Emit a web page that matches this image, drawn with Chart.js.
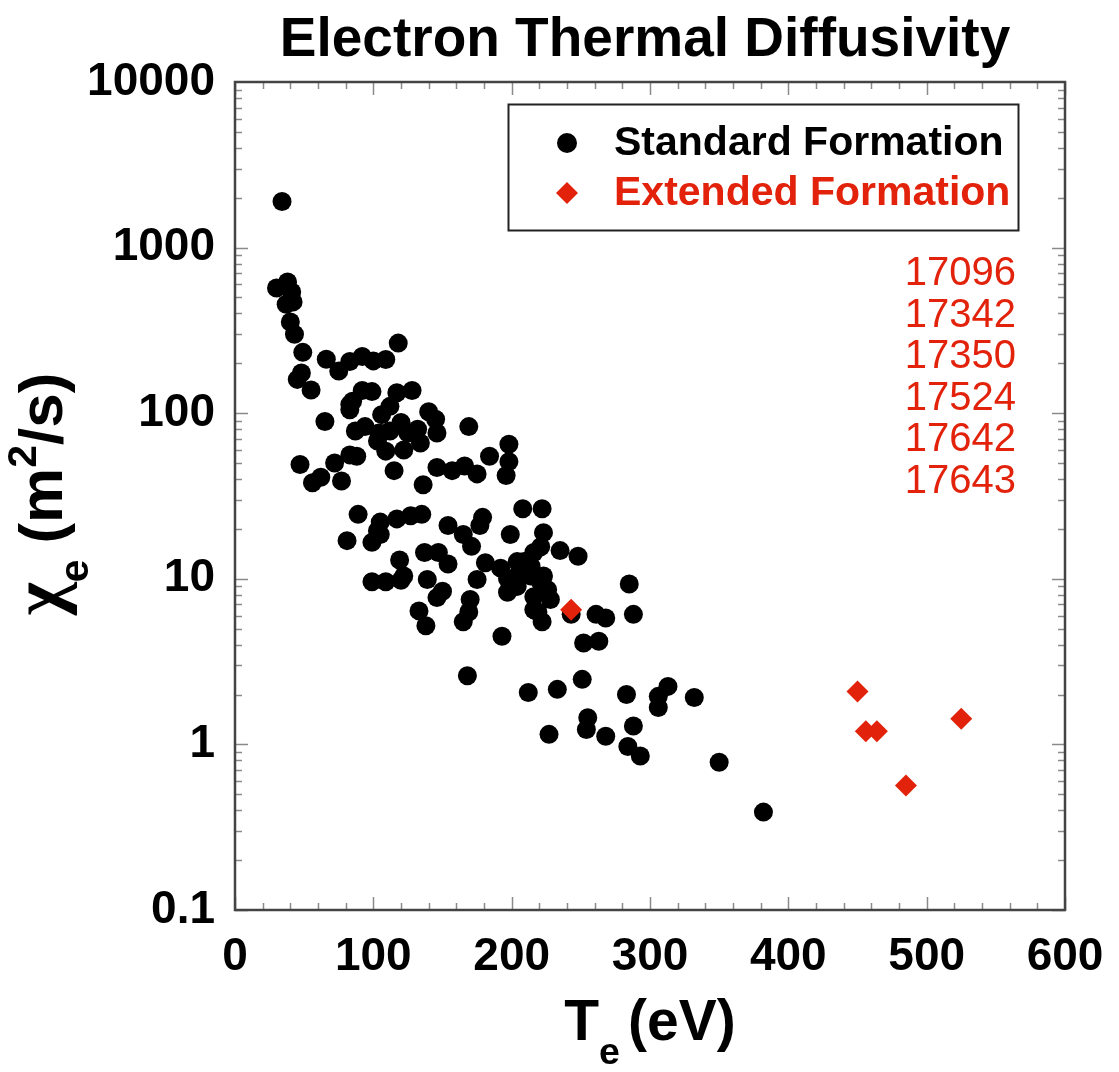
<!DOCTYPE html>
<html>
<head>
<meta charset="utf-8">
<title>Electron Thermal Diffusivity</title>
<script src="https://cdn.jsdelivr.net/npm/chart.js@4.4.1/dist/chart.umd.min.js"></script>
<style>
    html, body { margin: 0; padding: 0; background: #fff; }
    #wrap { width: 1119px; height: 1072px; }
</style>
</head>
<body>
<div id="wrap"><canvas id="chiChart" width="1119" height="1072"></canvas></div>
<script>
// Standard formation shots: Te (eV) and chi_e (m^2/s)
const standardTe = [
    34, 30, 38, 41, 37, 42, 40, 43, 49, 66, 75, 83, 92, 100, 109, 118,
    45, 48, 55, 65, 83, 83, 85, 92, 99, 117, 128, 112, 106, 87, 94, 104,
    103, 112, 120, 125, 132, 140, 145, 146, 134, 122, 109, 115, 88, 83, 169, 184,
    196, 198, 198, 47, 56, 62, 72, 77, 136, 146, 157, 166, 175,
    89, 105, 117, 127, 135, 154, 179, 81, 99, 105, 103, 119, 99, 109, 120, 139,
    137, 147, 154, 165, 171, 177, 181, 175, 170, 169, 165, 150, 146, 133, 138, 193,
    168, 199, 208, 222, 223, 235, 248, 285, 288, 261, 268, 252, 263, 243, 197, 192,
    197, 204, 209, 214, 216, 221, 221, 226, 228, 216, 216, 222, 204, 223, 219, 122,
    204, 214, 212, 233, 251, 283, 313, 306, 306, 332, 255, 254, 227, 268, 288, 284,
    293, 350, 382
];
const standardChi = [
    1900, 570, 620, 540, 455, 470, 355, 300, 233, 212, 180, 205, 220, 207, 211, 265,
    160, 175, 138, 89, 113, 105, 118, 137, 135, 133, 137, 110, 98, 78, 83, 76,
    68, 78, 88, 76, 80, 102, 92, 76, 66, 60, 59, 45, 55, 56, 83, 55,
    42, 65, 51, 49, 38, 41, 50, 39, 37, 47, 45, 48, 43,
    24.5, 22, 23, 24, 24.5, 21, 23.5, 17, 16.6, 18.5, 19.5, 13, 9.6, 9.6, 9.8, 9.9,
    14.4, 14.4, 12.3, 18.5, 15.7, 21, 12.5, 9.9, 7.5, 6.3, 5.5, 8.4, 7.7, 6.4, 5.2, 4.5,
    2.6, 18.5, 26.5, 26.5, 19, 14.8, 13.7, 9.3, 6.1, 6.1, 5.8, 4.1, 4.2, 6.1, 10, 11.6,
    8.3, 9, 12.7, 10.4, 14.4, 15.6, 9.5, 8.6, 7.5, 7.8, 6.5, 5.5, 10.4, 10.4, 6.3, 10.4,
    12.7, 11.9, 2.06, 2.15, 2.47, 2.0, 2.24, 1.95, 1.67, 1.92, 1.45, 1.23, 1.15, 1.12, 1.29, 0.97,
    0.85, 0.78, 0.39
];

// Extended formation shots
const extendedTe = [243, 450, 456, 464, 485, 525];
const extendedChi = [6.5, 2.09, 1.2, 1.2, 0.565, 1.43];
const shotNumbers = ['17096', '17342', '17350', '17524', '17642', '17643'];

// Axis ticks
const xTicks = [0, 100, 200, 300, 400, 500, 600];
const yTicks = [0.1, 1, 10, 100, 1000, 10000];
const yTickLabels = ['0.1', '1', '10', '100', '1000', '10000'];

const FONT = '"Liberation Sans", Arial, Helvetica, sans-serif';
const GREEK = '"Liberation Serif", "DejaVu Serif", serif';
const RED = 'rgb(226, 34, 10)';

function toPoints(xs, ys) {
    return xs.map((x, i) => ({ x: x, y: ys[i] }));
}

// text with sub/superscripts, centred on (cx, cy) baseline
function drawRich(ctx, segs, cx, cy, size, rotate) {
    ctx.save();
    ctx.translate(cx, cy);
    if (rotate) ctx.rotate(-Math.PI / 2);
    ctx.textBaseline = 'alphabetic';
    ctx.textAlign = 'left';
    ctx.fillStyle = '#000';
    let total = 0;
    segs.forEach(s => {
        const sz = (s.sub || s.sup) ? size * 0.66 : size * (s.scale || 1);
        s.font = 'bold ' + sz + 'px ' + (s.family || FONT);
        ctx.font = s.font;
        s.w = ctx.measureText(s.t).width + (s.gap || 0);
        total += s.w;
    });
    let x = -total / 2;
    segs.forEach(s => {
        ctx.font = s.font;
        const dy = s.sub ? size * 0.42 : s.sup ? -size * 0.42 : 0;
        ctx.fillText(s.t, x, dy);
        x += s.w;
    });
    ctx.restore();
}

const decorPlugin = {
    id: 'decor',
    afterDatasetsDraw(chart) {
        const ctx = chart.ctx;
        const a = chart.chartArea;
        const xs = chart.scales.x;
        const ys = chart.scales.y;

        // inward tick marks on all four sides
        ctx.save();
        ctx.strokeStyle = '#8a8a8a';
        ctx.lineWidth = 1.5;
        ctx.beginPath();
        for (let v = 0; v <= 600; v += 20) {
            const px = Math.round(xs.getPixelForValue(v)) + 0.5;
            const len = (v % 100 === 0) ? 13 : 7;
            ctx.moveTo(px, a.bottom); ctx.lineTo(px, a.bottom - len);
            ctx.moveTo(px, a.top); ctx.lineTo(px, a.top + len);
        }
        for (let d = 0.1; d < 10000; d *= 10) {
            for (let m = 1; m <= 9; m++) {
                const py = Math.round(ys.getPixelForValue(m * d)) + 0.5;
                const len = m === 1 ? 13 : 7;
                ctx.moveTo(a.left, py); ctx.lineTo(a.left + len, py);
                ctx.moveTo(a.right, py); ctx.lineTo(a.right - len, py);
            }
        }
        ctx.stroke();

        // frame
        ctx.strokeStyle = '#444';
        ctx.lineWidth = 2.5;
        ctx.strokeRect(a.left, a.top, a.right - a.left, a.bottom - a.top);

        // title
        ctx.fillStyle = '#000';
        ctx.font = 'bold 55px ' + FONT;
        ctx.textAlign = 'center';
        ctx.textBaseline = 'alphabetic';
        ctx.fillText('Electron Thermal Diffusivity', 645, 56);

        // legend box
        ctx.strokeStyle = '#222';
        ctx.lineWidth = 2;
        ctx.strokeRect(508.5, 104.5, 510, 126);
        chart.data.datasets.forEach((ds, i) => {
            const cy = 143 + i * 50;
            ctx.fillStyle = ds.backgroundColor;
            ctx.beginPath();
            if (ds.pointStyle === 'rectRot') {
                ctx.moveTo(567, cy - 11); ctx.lineTo(578, cy); ctx.lineTo(567, cy + 11); ctx.lineTo(556, cy);
            } else {
                ctx.arc(567, cy, 10, 0, Math.PI * 2);
            }
            ctx.closePath();
            ctx.fill();
            ctx.font = 'bold 41px ' + FONT;
            ctx.textAlign = 'left';
            ctx.textBaseline = 'middle';
            ctx.fillText(ds.label, 614, cy + 1);
        });

        // shot numbers of the extended formation
        ctx.fillStyle = RED;
        ctx.font = '40px ' + FONT;
        ctx.textAlign = 'right';
        ctx.textBaseline = 'alphabetic';
        shotNumbers.forEach((s, i) => {
            ctx.fillText(s, 1016, 285 + i * 41.6);
        });

        // axis titles
        drawRich(ctx, [
            { t: 'T' },
            { t: 'e', sub: true, gap: 8 },
            { t: '(eV)' }
        ], 650, 1040, 57, false);
        drawRich(ctx, [
            { t: '\u03c7', family: GREEK, scale: 1.15 },
            { t: 'e', sub: true, gap: 16 },
            { t: '(m' },
            { t: '2', sup: true },
            { t: '/s)' }
        ], 62, 494, 62, true);
        ctx.restore();
    }
};

new Chart(document.getElementById('chiChart').getContext('2d'), {
    type: 'scatter',
    data: {
        datasets: [{
            label: 'Standard Formation',
            data: toPoints(standardTe, standardChi),
            order: 1,
            pointStyle: 'circle',
            pointRadius: 9.5,
            pointBorderWidth: 0,
            backgroundColor: '#000',
            borderColor: '#000'
        }, {
            label: 'Extended Formation',
            data: toPoints(extendedTe, extendedChi),
            order: 0,
            pointStyle: 'rectRot',
            pointRadius: 11,
            pointBorderWidth: 0,
            backgroundColor: RED,
            borderColor: RED
        }]
    },
    options: {
        responsive: false,
        animation: false,
        devicePixelRatio: 1,
        layout: { padding: { top: 82, right: 54, left: 0, bottom: 0 } },
        plugins: {
            legend: { display: false },
            title: { display: false },
            tooltip: { enabled: false }
        },
        scales: {
            x: {
                type: 'linear',
                min: 0,
                max: 600,
                afterBuildTicks: s => { s.ticks = xTicks.map(v => ({ value: v })); },
                afterFit: s => { s.height = 162; },
                grid: { display: false },
                border: { display: false },
                ticks: {
                    autoSkip: false,
                    maxRotation: 0,
                    padding: 12,
                    color: '#000',
                    font: { family: FONT, size: 46, weight: 'bold' }
                }
            },
            y: {
                type: 'logarithmic',
                min: 0.1,
                max: 10000,
                afterBuildTicks: s => { s.ticks = yTicks.map(v => ({ value: v })); },
                afterFit: s => { s.width = 235; },
                grid: { display: false },
                border: { display: false },
                ticks: {
                    autoSkip: false,
                    padding: 12,
                    color: '#000',
                    font: { family: FONT, size: 46, weight: 'bold' },
                    callback: v => yTickLabels[yTicks.indexOf(v)]
                }
            }
        }
    },
    plugins: [decorPlugin]
});
</script>
</body>
</html>
